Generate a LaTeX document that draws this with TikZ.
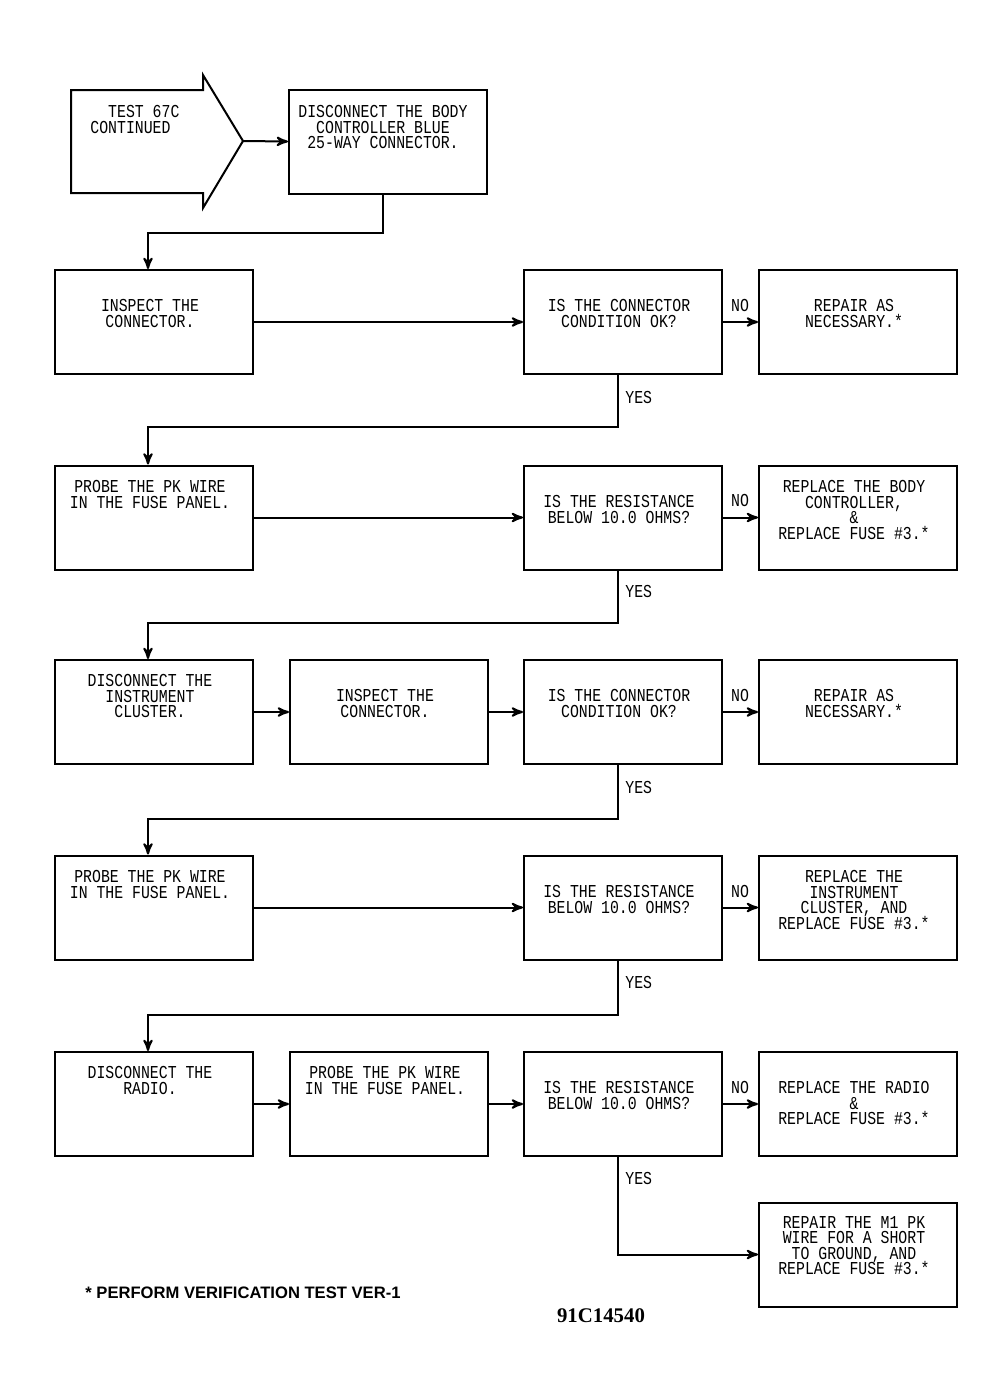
\documentclass[tikz,border=0pt]{standalone}
\usepackage{fontspec}
\newfontfamily\plotfont[FakeStretch=0.815]{Liberation Mono}
\newfontfamily\notefont{Liberation Sans}
\newfontfamily\figfont{Liberation Serif}
\usetikzlibrary{calc}
\usetikzlibrary{arrows}
\lineskiplimit=-10pt

\begin{document}
\begin{tikzpicture}[x=0.5pt, y=-0.5pt,
  stepbox/.style={draw, line width=1pt, minimum width=99pt, minimum height=52pt, inner sep=0pt},
  boxtext/.style={anchor=north, align=center, inner sep=0pt, font=\plotfont\fontsize{9.1}{7.75}\selectfont},
  answer/.style={inner sep=0pt, font=\plotfont\fontsize{9.1}{7.75}\selectfont},
  flow/.style={line width=1pt, ->, >=stealth'}]
\useasboundingbox (0,0) rectangle (995,1398);

% start arrow
\draw[line width=1pt] (71,90) -- (203,90) -- (203,75) -- (243,141) -- (203,208) -- (203,193) -- (71,193) -- cycle;
\coordinate (tip) at (243,141);
\node[boxtext, anchor=north west, align=left] (start) at (90,105) {\phantom{XX}TEST 67C\\CONTINUED};

\node[stepbox] (b0) at (388,141.5) {};
\node[boxtext] (t0) at (383,105) {DISCONNECT THE BODY\\CONTROLLER BLUE\\25-WAY CONNECTOR.};

% row 1
\node[stepbox] (r1a) at (154,322) {};
\node[stepbox] (r1b) at (623,322) {};
\node[stepbox] (r1c) at (858,322) {};
\node[boxtext] (t1a) at (150,299) {INSPECT THE\\CONNECTOR.};
\node[boxtext] (t1b) at (619,299) {IS THE CONNECTOR\\CONDITION OK?};
\node[boxtext] (t1c) at (854,299) {REPAIR AS\\NECESSARY.*};

% row 2
\node[stepbox] (r2a) at (154,517.5) {};
\node[stepbox] (r2b) at (623,517.5) {};
\node[stepbox] (r2c) at (858,517.5) {};
\node[boxtext] (t2a) at (150,480) {PROBE THE PK WIRE\\IN THE FUSE PANEL.};
\node[boxtext] (t2b) at (619,495) {IS THE RESISTANCE\\BELOW 10.0 OHMS?};
\node[boxtext] (t2c) at (854,480) {REPLACE THE BODY\\CONTROLLER,\\\&\\REPLACE FUSE \#3.*};

% row 3
\node[stepbox] (r3a) at (154,712) {};
\node[stepbox] (r3b) at (389,712) {};
\node[stepbox] (r3c) at (623,712) {};
\node[stepbox] (r3d) at (858,712) {};
\node[boxtext] (t3a) at (150,674) {DISCONNECT THE\\INSTRUMENT\\CLUSTER.};
\node[boxtext] (t3b) at (385,689) {INSPECT THE\\CONNECTOR.};
\node[boxtext] (t3c) at (619,689) {IS THE CONNECTOR\\CONDITION OK?};
\node[boxtext] (t3d) at (854,689) {REPAIR AS\\NECESSARY.*};

% row 4
\node[stepbox] (r4a) at (154,907.5) {};
\node[stepbox] (r4b) at (623,907.5) {};
\node[stepbox] (r4c) at (858,907.5) {};
\node[boxtext] (t4a) at (150,870) {PROBE THE PK WIRE\\IN THE FUSE PANEL.};
\node[boxtext] (t4b) at (619,885) {IS THE RESISTANCE\\BELOW 10.0 OHMS?};
\node[boxtext] (t4c) at (854,870) {REPLACE THE\\INSTRUMENT\\CLUSTER, AND\\REPLACE FUSE \#3.*};

% row 5
\node[stepbox] (r5a) at (154,1104) {};
\node[stepbox] (r5b) at (389,1104) {};
\node[stepbox] (r5c) at (623,1104) {};
\node[stepbox] (r5d) at (858,1104) {};
\node[boxtext] (t5a) at (150,1066) {DISCONNECT THE\\RADIO.};
\node[boxtext] (t5b) at (385,1066) {PROBE THE PK WIRE\\IN THE FUSE PANEL.};
\node[boxtext] (t5c) at (619,1081) {IS THE RESISTANCE\\BELOW 10.0 OHMS?};
\node[boxtext] (t5d) at (854,1081) {REPLACE THE RADIO\\\&\\REPLACE FUSE \#3.*};

\node[stepbox] (r6) at (858,1254.5) {};
\node[boxtext] (t6) at (854,1216) {REPAIR THE M1 PK\\WIRE FOR A SHORT\\TO GROUND, AND\\REPLACE FUSE \#3.*};

% connectors
\draw[flow] (tip) -- (b0.west);
\draw[flow] ([xshift=-2.5pt]b0.south) -- ++(0,38) -| ([xshift=-3pt]r1a.north);
\draw[flow] (r1a) -- (r1b);
\draw[flow] (r1b) -- (r1c);
\draw[flow] ([xshift=-2.5pt]r1b.south) -- ++(0,52) -| ([xshift=-3pt]r2a.north);
\draw[flow] (r2a) -- (r2b);
\draw[flow] (r2b) -- (r2c);
\draw[flow] ([xshift=-2.5pt]r2b.south) -- ++(0,52) -| ([xshift=-3pt]r3a.north);
\draw[flow] (r3a) -- (r3b);
\draw[flow] (r3b) -- (r3c);
\draw[flow] (r3c) -- (r3d);
\draw[flow] ([xshift=-2.5pt]r3c.south) -- ++(0,54) -| ([xshift=-3pt]r4a.north);
\draw[flow] (r4a) -- (r4b);
\draw[flow] (r4b) -- (r4c);
\draw[flow] ([xshift=-2.5pt]r4b.south) -- ++(0,54) -| ([xshift=-3pt]r5a.north);
\draw[flow] (r5a) -- (r5b);
\draw[flow] (r5b) -- (r5c);
\draw[flow] (r5c) -- (r5d);
\draw[flow] ([xshift=-2.5pt]r5c.south) |- (r6);

% answers
\node[answer] (no1) at (740,305) {NO};
\node[answer] (no2) at (740,500) {NO};
\node[answer] (no3) at (740,695) {NO};
\node[answer] (no4) at (740,891) {NO};
\node[answer] (no5) at (740,1087) {NO};
\node[answer, anchor=west] (yes1) at (625,397) {YES};
\node[answer, anchor=west] (yes2) at (625,591) {YES};
\node[answer, anchor=west] (yes3) at (625,787) {YES};
\node[answer, anchor=west] (yes4) at (625,982) {YES};
\node[answer, anchor=west] (yes5) at (625,1178) {YES};

\node[anchor=west, inner sep=0pt, font=\notefont\bfseries\fontsize{8.3}{10}\selectfont] (note) at (85,1293) {* PERFORM VERIFICATION TEST VER-1};
\node[inner sep=0pt, font=\figfont\bfseries\fontsize{10.4}{12}\selectfont] (fig) at (601,1316) {91C14540};

\end{tikzpicture}
\end{document}
